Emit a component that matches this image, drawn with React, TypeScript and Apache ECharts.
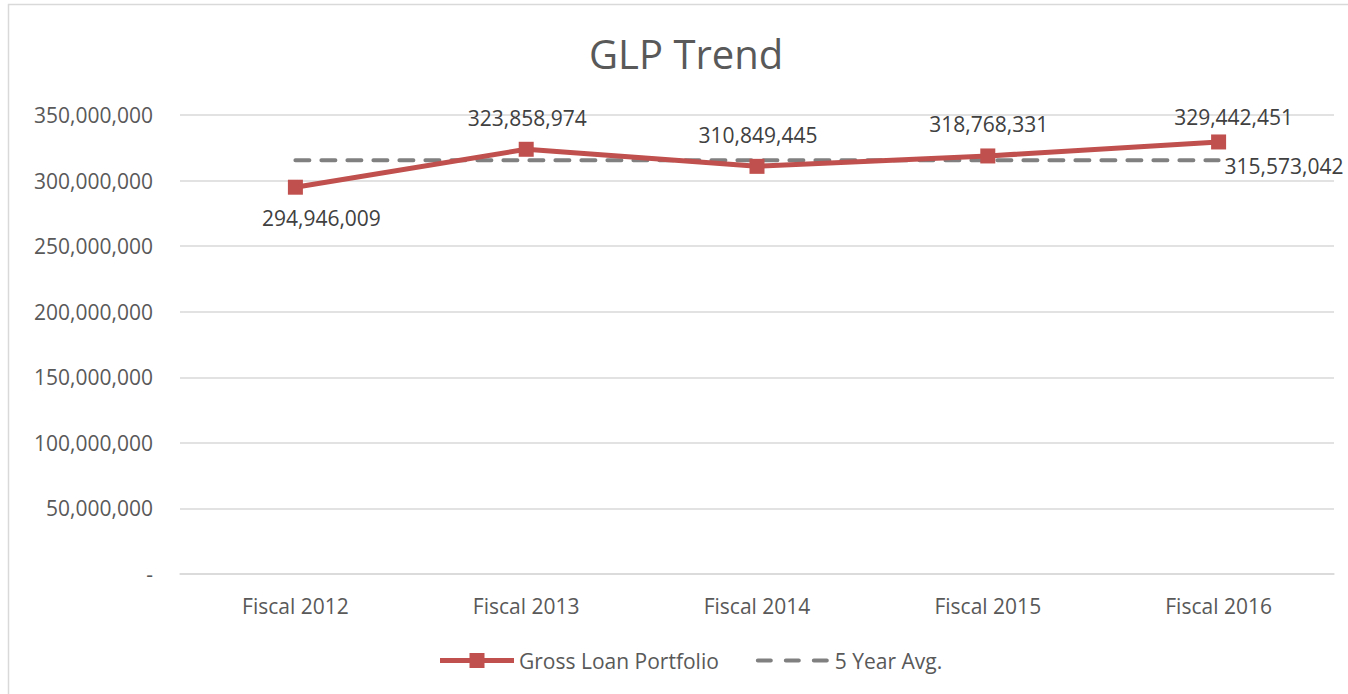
import React, { useEffect, useRef } from "react";
import * as echarts from "echarts";

const categories = ["Fiscal 2012", "Fiscal 2013", "Fiscal 2014", "Fiscal 2015", "Fiscal 2016"];
const glpValues = [294946009, 323858974, 310849445, 318768331, 329442451];
const avgValue = 315573042;
const avgValues = categories.map(() => avgValue);
const seriesNames = ["Gross Loan Portfolio", "5 Year Avg."];
const titleText = "GLP Trend";

const FONT = "'Open Sans', Lato, sans-serif";
const fmt = (v: number) => (v === 0 ? "-" : Math.round(v).toLocaleString("en-US"));

const labelDistances = [13, 13, 13, 14, 7];
const labelShiftX = [26, 1, 1, 1, 15];

const redIcon = "path://M0,5.5H74V10.5H0Z M29.5,0.5H44.5V15.5H29.5Z";
const grayIcon =
  "path://M0,0h0.01v0.01h-0.01Z M74,16h-0.01v-0.01h0.01Z " +
  "M2,6H15A2,2 0 0 1 15,10H2A2,2 0 0 1 2,6Z " +
  "M30,6H43A2,2 0 0 1 43,10H30A2,2 0 0 1 30,6Z " +
  "M58,6H71A2,2 0 0 1 71,10H58A2,2 0 0 1 58,6Z";

export default function App() {
  const ref = useRef<HTMLDivElement>(null);
  useEffect(() => {
    if (!ref.current) return;
    const chart = echarts.init(ref.current, undefined, { renderer: "svg" });
    chart.setOption({
      animation: false,
      backgroundColor: "#ffffff",
      textStyle: { fontFamily: FONT },
      graphic: [
        {
          type: "rect",
          shape: { x: 8.5, y: 4.5, width: 1400, height: 800 },
          style: { fill: "none", stroke: "#d9d9d9", lineWidth: 1.5 },
          silent: true,
        },
      ],
      title: {
        text: titleText,
        left: 584,
        top: 28,
        textStyle: { fontFamily: FONT, fontSize: 40, fontWeight: "normal", color: "#595959" },
      },
      grid: { left: 180, right: 14, top: 115, bottom: 120 },
      legend: {
        left: 435,
        top: 645,
        itemWidth: 74,
        itemHeight: 16,
        itemGap: 37,
        textStyle: { fontFamily: FONT, fontSize: 21, color: "#595959" },
        data: [
          { name: seriesNames[0], icon: redIcon, itemStyle: { color: "#C0504D" } },
          { name: seriesNames[1], icon: grayIcon, itemStyle: { color: "#808080" } },
        ],
      },
      xAxis: {
        type: "category",
        data: categories,
        boundaryGap: true,
        axisLine: { show: true, lineStyle: { color: "#d9d9d9", width: 1.5 } },
        axisTick: { show: false },
        axisLabel: { fontFamily: FONT, fontSize: 21, color: "#595959", margin: 21 },
      },
      yAxis: {
        type: "value",
        min: 0,
        max: 350000000,
        interval: 50000000,
        axisLine: { show: false },
        axisTick: { show: false },
        splitLine: { lineStyle: { color: "#d9d9d9", width: 1.5 } },
        axisLabel: {
          fontFamily: FONT,
          fontSize: 21,
          color: "#595959",
          margin: 27,
          formatter: (v: number) => fmt(v),
        },
      },
      series: [
        {
          name: seriesNames[1],
          type: "line",
          data: avgValues,
          symbol: "none",
          lineStyle: { color: "#808080", width: 4, type: [14, 12], cap: "round" },
          itemStyle: { color: "#808080" },
          endLabel: {
            show: true,
            distance: 6,
            offset: [0, 6],
            formatter: (p: any) => fmt(p.value),
            fontFamily: FONT,
            fontSize: 21,
            color: "#404040",
          },
          z: 2,
        },
        {
          name: seriesNames[0],
          type: "line",
          data: glpValues.map((v, i) => ({
            value: v,
            label: {
              show: true,
              position: i === 0 ? "bottom" : "top",
              distance: labelDistances[i],
              offset: [labelShiftX[i], 0],
              formatter: (p: any) => fmt(p.value),
              fontFamily: FONT,
              fontSize: 21,
              color: "#404040",
            },
          })),
          symbol: "rect",
          symbolSize: 15,
          lineStyle: { color: "#C0504D", width: 5 },
          itemStyle: { color: "#C0504D" },
          z: 3,
        },
      ],
    });
    return () => chart.dispose();
  }, []);
  return (
    <div
      ref={ref}
      style={{ position: "fixed", left: 0, top: 0, width: 1348, height: 694, background: "#fff" }}
    />
  );
}
